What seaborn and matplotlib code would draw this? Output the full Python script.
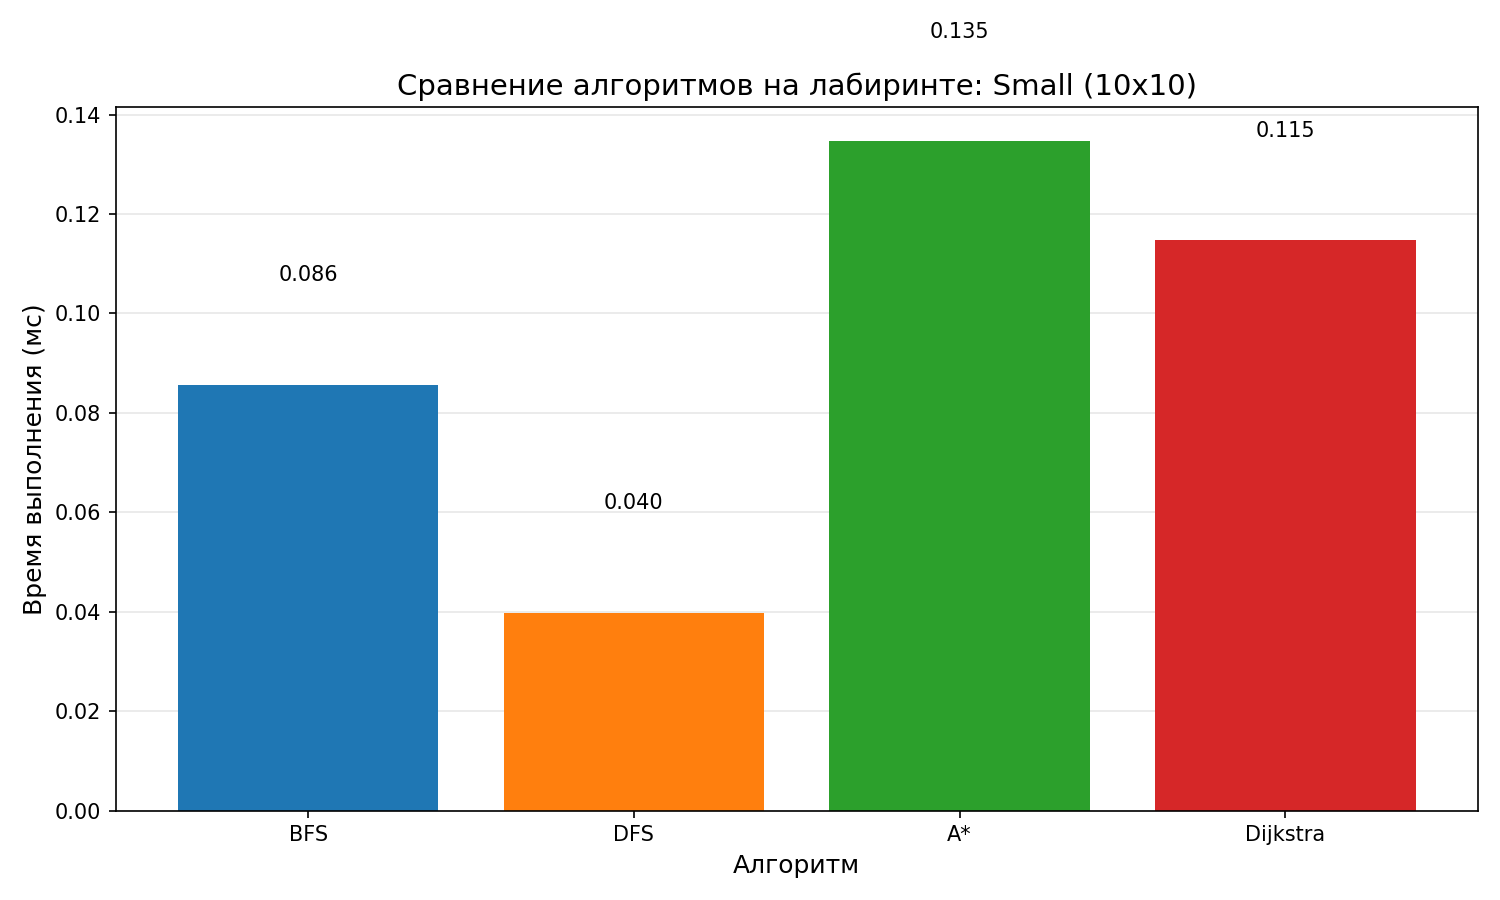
import numpy as np
import pandas as pd
import matplotlib
matplotlib.use("Agg")
import matplotlib.pyplot as plt
import seaborn as sns

algorithms = ["BFS", "DFS", "A*", "Dijkstra"]
times_ms = [0.0857, 0.0398, 0.1347, 0.1147]
colors = ["#1f77b4", "#ff7f0e", "#2ca02c", "#d62728"]

df = pd.DataFrame({"algorithm": algorithms, "time": times_ms})

fig, ax = plt.subplots(figsize=(10, 6), dpi=150)
sns.barplot(data=df, x="algorithm", y="time", hue="algorithm", palette=colors,
            saturation=1, width=0.8, legend=False, ax=ax)

# value labels above the bars
for i, v in enumerate(times_ms):
    ax.text(i, v + 0.02, f"{v:.3f}", ha="center", va="bottom", fontsize=10)

ax.set_xlim(-0.59, len(algorithms) - 1 + 0.59)
ax.set_title("Сравнение алгоритмов на лабиринте: Small (10x10)", fontsize=14)
ax.set_xlabel("Алгоритм", fontsize=12)
ax.set_ylabel("Время выполнения (мс)", fontsize=12)
ax.grid(axis="y", alpha=0.3)
ax.set_axisbelow(True)

plt.tight_layout()
plt.savefig("out.png")
